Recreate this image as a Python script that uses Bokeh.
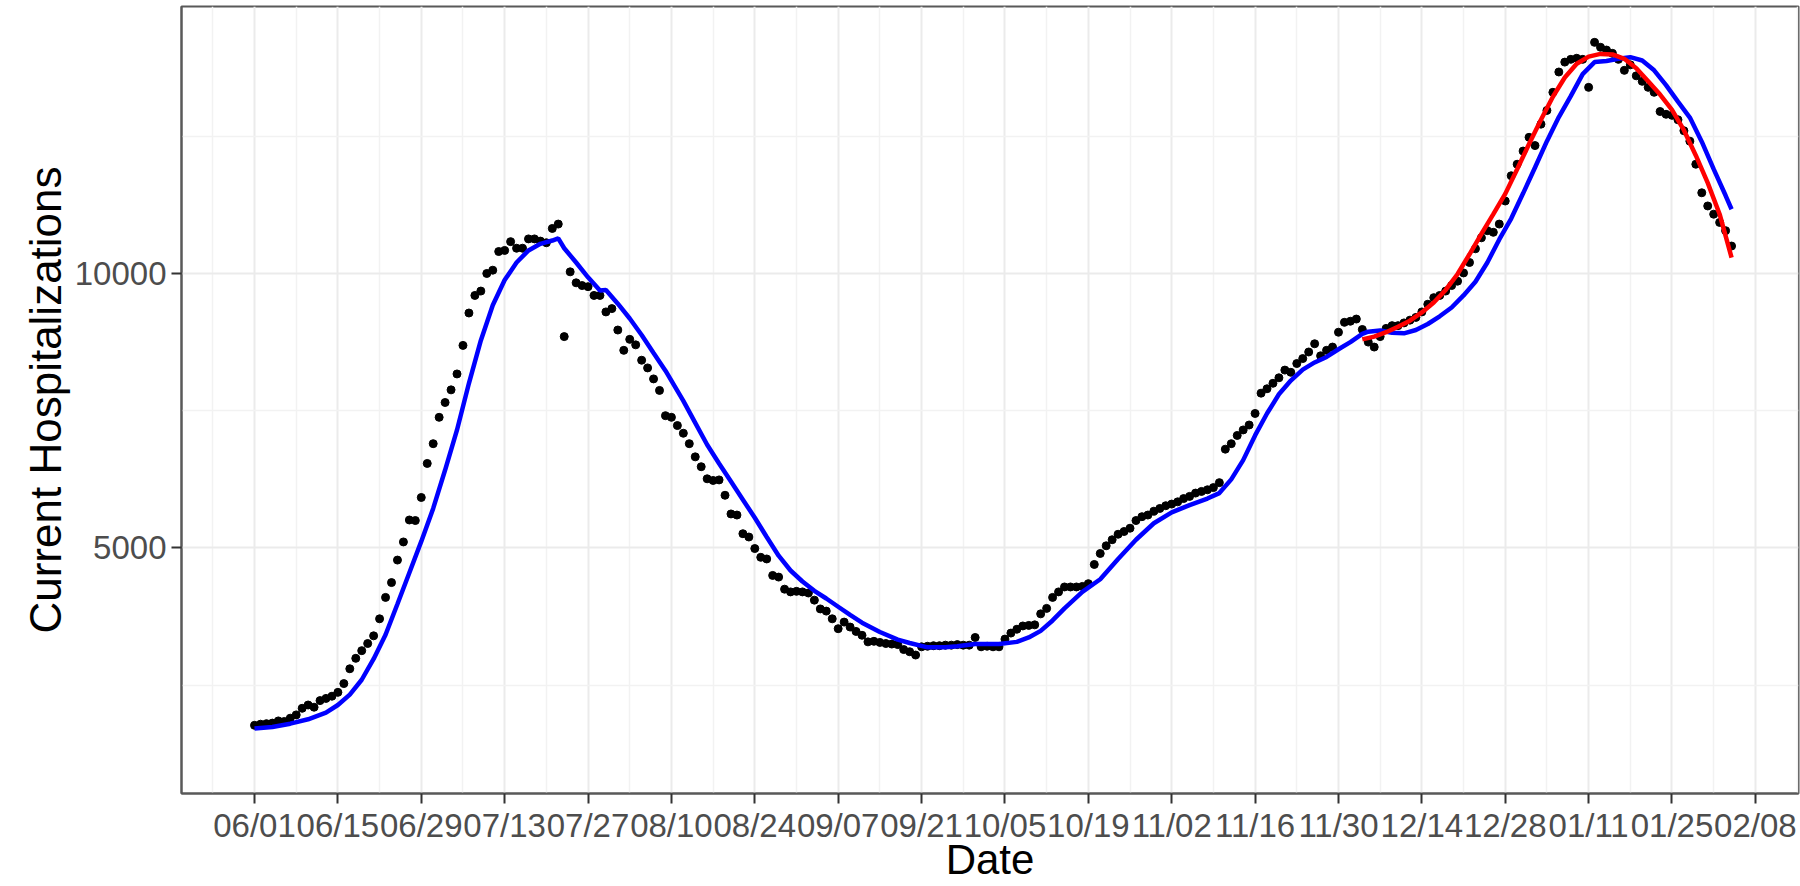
import pandas as pd
from bokeh.plotting import figure
from bokeh.models import Range1d, FixedTicker, DatetimeTickFormatter
from bokeh.embed import file_html
from bokeh.resources import INLINE

start_date = "2020-06-01"

# daily current hospitalizations (one value per day from 2020-06-01)
hosp = [
    1770, 1790, 1800, 1810, 1850, 1840, 1900, 1960, 2080, 2140,
    2100, 2220, 2260, 2300, 2370, 2530, 2800, 2990, 3130, 3260,
    3400, 3710, 4100, 4370, 4780, 5110, 5510, 5500, 5920, 6540,
    6900, 7380, 7650, 7880, 8170, 8690, 9280, 9600, 9680, 10000,
    10060, 10400, 10420, 10580, 10460, 10460, 10630, 10630, 10590, 10560,
    10820, 10900, 8850, 10030, 9830, 9780, 9760, 9600, 9600, 9300,
    9360, 8970, 8600, 8800, 8700, 8420, 8280, 8080, 7870, 7410,
    7380, 7230, 7090, 6900, 6660, 6480, 6260, 6230, 6240, 5960,
    5620, 5600, 5260, 5200, 4990, 4830, 4800, 4500, 4470, 4250,
    4200, 4210, 4200, 4180, 4050, 3890, 3850, 3710, 3530, 3650,
    3560, 3480, 3410, 3290, 3300, 3280, 3260, 3250, 3240, 3150,
    3110, 3050, 3200, 3210, 3220, 3220, 3230, 3230, 3240, 3230,
    3230, 3370, 3200, 3210, 3200, 3200, 3340, 3450, 3520, 3580,
    3590, 3600, 3800, 3900, 4100, 4200, 4290, 4290, 4290, 4300,
    4350, 4700, 4900, 5040, 5150, 5250, 5300, 5360, 5500, 5570,
    5600, 5670, 5720, 5770, 5800, 5840, 5900, 5940, 6000, 6030,
    6060, 6100, 6190, 6800, 6900, 7050, 7150, 7240, 7450, 7820,
    7900, 8000, 8100, 8240, 8200, 8360, 8450, 8570, 8720, 8500,
    8600, 8660, 8930, 9110, 9130, 9170, 8980, 8750, 8660, 8850,
    9000, 9050, 9050, 9100, 9150, 9200, 9300, 9440, 9560, 9600,
    9680, 9780, 9860, 10010, 10200, 10450, 10650, 10780, 10750, 10900,
    11320, 11780, 11990, 12230, 12480, 12330, 12720, 12970, 13300, 13670,
    13850, 13900, 13920, 13900, 13390, 14210, 14120, 14070, 14010, 13900,
    13700, 13800, 13600, 13500, 13390, 13300, 12950, 12900, 12880, 12800,
    12600, 12410, 11990, 11470, 11230, 11080, 10930, 10780, 10500,
]

# smooth fit over the whole period (day index, value)
blue_day = [0, 3, 6, 9, 12, 14, 16, 18, 20, 22, 24, 26, 28, 30, 32, 34, 36, 38, 40, 42,
            44, 46, 48, 50, 51, 52, 54, 56, 58, 59, 61, 63, 65, 67, 69, 72, 74, 76, 78, 80,
            82, 84, 86, 88, 90, 92, 94, 96, 98, 100, 102, 105, 108, 110, 113, 116, 118, 121, 125, 128,
            130, 132, 134, 136, 139, 142, 145, 148, 151, 154, 157, 160, 162, 164, 166, 168, 170, 172, 174, 176,
            178, 180, 182, 184, 186, 187, 189, 191, 193, 195, 197, 199, 201, 203, 205, 207, 209, 211, 213, 215,
            217, 219, 221, 223, 225, 227, 229, 231, 233, 235, 237, 239, 241, 243, 245, 247, 248]
blue_val = [1710, 1740, 1800, 1880, 2000, 2140, 2330, 2600, 2980, 3420, 3980, 4550, 5120, 5720, 6420, 7150, 8000, 8780, 9420, 9880,
            10200, 10420, 10540, 10600, 10640, 10460, 10200, 9930, 9690, 9700, 9450, 9180, 8880, 8550, 8230, 7680, 7280, 6880, 6540, 6210,
            5880, 5550, 5200, 4860, 4590, 4390, 4220, 4080, 3930, 3780, 3640, 3470, 3330, 3270, 3190, 3190, 3210, 3250, 3250, 3290,
            3370, 3490, 3680, 3900, 4200, 4430, 4800, 5150, 5450, 5650, 5780, 5900, 6000, 6250, 6600, 7050, 7450, 7800, 8050, 8250,
            8380, 8480, 8620, 8750, 8900, 8940, 8960, 8920, 8910, 8970, 9080, 9220, 9380, 9600, 9850, 10200, 10620, 11000, 11460, 11930,
            12410, 12850, 13230, 13630, 13850, 13870, 13910, 13940, 13880, 13700, 13430, 13130, 12840, 12400, 11900, 11420, 11170]

# fit over the most recent period
red_day = [186, 188, 190, 192, 194, 196, 198, 200, 202, 204, 206, 208, 210, 212, 214, 216,
           218, 220, 222, 224, 226, 228, 230, 232, 234, 236, 238, 240, 242, 244, 246, 248]
red_val = [8800, 8850, 8930, 9030, 9140, 9290, 9470, 9700, 9990, 10350, 10720, 11080, 11450, 11900, 12360, 12800,
           13220, 13570, 13820, 13950, 14000, 13990, 13910, 13740, 13500, 13260, 12980, 12610, 12150, 11650, 11080, 10290]

tick_labels = ["2020-06-01", "2020-06-15", "2020-06-29", "2020-07-13", "2020-07-27", "2020-08-10",
               "2020-08-24", "2020-09-07", "2020-09-21", "2020-10-05", "2020-10-19", "2020-11-02",
               "2020-11-16", "2020-11-30", "2020-12-14", "2020-12-28", "2021-01-11", "2021-01-25",
               "2021-02-08"]
y_ticks = [5000, 10000]
y_minor = [2500, 7500, 12500]

t0 = pd.Timestamp(start_date)
dates = pd.date_range(start_date, periods=len(hosp), freq="D")
blue_dates = [t0 + pd.Timedelta(days=d) for d in blue_day]
red_dates = [t0 + pd.Timedelta(days=d) for d in red_day]

def ms(ts):
    return ts.value / 1e6

tick_ts = [pd.Timestamp(s) for s in tick_labels]
major = [ms(t) for t in tick_ts]
minor = [ms(t - pd.Timedelta(days=7)) for t in tick_ts] + [ms(tick_ts[-1] + pd.Timedelta(days=7))]

x0 = t0 - pd.Timedelta(days=12.26)
x1 = t0 + pd.Timedelta(days=259.24)

FL, FR, FT, FB = 181, 2, 6, 93
W, H = 1800, 886

p = figure(width=W, height=H, x_axis_type="datetime",
           x_range=Range1d(x0, x1), y_range=Range1d(528, 14863),
           output_backend="svg", toolbar_location=None,
           min_border_left=FL, min_border_right=FR, min_border_top=FT, min_border_bottom=FB,
           x_axis_label="Date", y_axis_label="Current Hospitalizations")

p.background_fill_color = "white"
p.border_fill_color = "white"
p.outline_line_color = "#595959"
p.outline_line_width = 2

p.xaxis.ticker = FixedTicker(ticks=major, minor_ticks=minor)
p.xaxis.formatter = DatetimeTickFormatter(days="%m/%d", months="%m/%d", years="%m/%d",
                                          hours="%m/%d", minutes="%m/%d", seconds="%m/%d",
                                          milliseconds="%m/%d", microseconds="%m/%d")
p.yaxis.ticker = FixedTicker(ticks=y_ticks, minor_ticks=y_minor)

for ax in (p.xaxis[0], p.yaxis[0]):
    ax.axis_line_color = "#595959"
    ax.axis_line_width = 2
    ax.major_tick_line_color = "#333333"
    ax.major_tick_line_width = 2
    ax.major_tick_out = 10
    ax.major_tick_in = 0
    ax.minor_tick_line_color = None
    ax.major_label_text_font = "Liberation Sans"
    ax.major_label_text_font_size = "33px"
    ax.major_label_text_color = "#4D4D4D"
    ax.axis_label_text_font = "Liberation Sans"
    ax.axis_label_text_font_size = "44px"
    ax.axis_label_text_font_style = "normal"
    ax.axis_label_text_color = "#000000"

p.xaxis.axis_label_text_font_size = "42px"
p.xaxis.major_label_standoff = 3
p.xaxis.axis_label_standoff = -11
p.yaxis.major_label_standoff = 5
p.yaxis.axis_label_standoff = 2

for g in (p.xgrid[0], p.ygrid[0]):
    g.grid_line_color = "#EBEBEB"
    g.grid_line_width = 2
    g.minor_grid_line_color = "#F2F2F2"
    g.minor_grid_line_width = 1.5
p.xgrid.ticker = p.xaxis.ticker
p.ygrid.ticker = p.yaxis.ticker

p.scatter(dates, hosp, size=8, color="black")
p.line(blue_dates, blue_val, line_color="blue", line_width=4.5)
p.line(red_dates, red_val, line_color="red", line_width=4.5)

html = file_html(p, INLINE)
open("out.html", "w").write(html)
